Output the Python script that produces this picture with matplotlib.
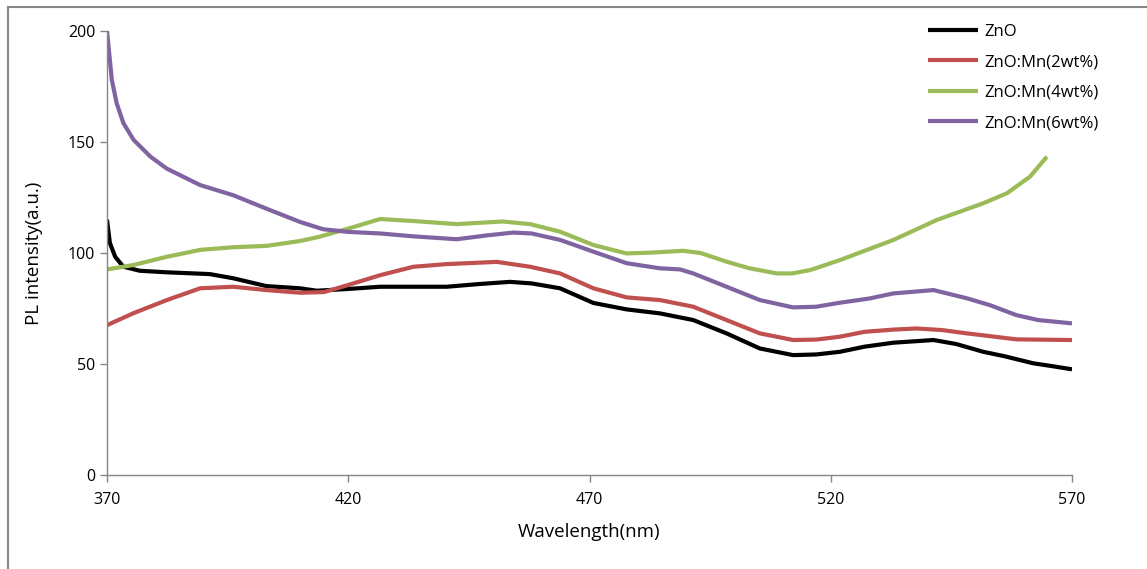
import matplotlib; matplotlib.use("Agg")
import matplotlib.pyplot as plt
from matplotlib.lines import Line2D

plt.rcParams['font.family'] = ['Open Sans', 'DejaVu Sans']

# ZnO (black)
zno_x = [370, 370.6, 371.7, 373.4, 376.8, 382.4, 391.3, 396.2, 403, 410, 413.5, 420, 426.6,
         433.5, 440.4, 447, 453.5, 458, 463.9, 470.8, 477.7, 484.6, 491.5, 498.4, 505.3,
         512.2, 517, 521.9, 527, 533, 541.3, 546, 551.6, 556, 562, 566, 570]
zno_y = [115, 104.5, 98.3, 93.8, 92, 91.3, 90.5, 88.6, 85.1, 84.1, 83, 83.8, 84.8,
         84.8, 84.8, 86, 87, 86.3, 84.1, 77.5, 74.6, 72.8, 69.8, 63.8, 57,
         54, 54.3, 55.5, 57.8, 59.6, 60.8, 59, 55.5, 53.5, 50.3, 49, 47.6]

# ZnO:Mn 2wt% (red)
mn2_x = [370, 375.5, 382.4, 389.3, 396.2, 403, 410, 415, 420, 426.6, 433.5, 440.4, 450.8,
         457.7, 463.9, 470.8, 477.7, 484.6, 491.5, 498.4, 505.3, 512.2, 517, 521.9, 527,
         533, 537.8, 543, 548.2, 558.5, 570]
mn2_y = [67.5, 72.9, 78.8, 84.1, 84.8, 83.3, 82.1, 82.4, 85.6, 90, 93.8, 95, 96,
         93.8, 90.8, 84.1, 80, 78.8, 75.8, 69.8, 63.8, 60.8, 61, 62.3, 64.5,
         65.5, 66, 65.3, 63.8, 61.1, 60.8]

# ZnO:Mn 4wt% (green)
mn4_x = [370, 375.5, 382.4, 389.3, 396.2, 403, 410, 414, 420, 426.6, 433.5, 442.5, 452,
         457.7, 463.9, 470.8, 477.7, 483, 489.4, 493, 498.4, 503, 508.8, 512, 515.7,
         521.9, 533, 542, 551.6, 556.5, 561.3, 564.8]
mn4_y = [92.6, 94.6, 98.3, 101.4, 102.6, 103.2, 105.4, 107.3, 111, 115.3, 114.4, 113, 114.2,
         113, 109.6, 103.6, 99.8, 100.2, 101, 100, 96.1, 93.2, 90.8, 90.8, 92.3,
         96.8, 105.9, 114.9, 122.4, 126.9, 134.4, 143.4]

# ZnO:Mn 6wt% (purple)
mn6_x = [370, 370.5, 371, 372, 373.4, 375.5, 379, 382.4, 389.3, 396.2, 403, 410, 414.8,
         420, 426.6, 433.5, 442.5, 449, 454.2, 458, 463.9, 470.8, 477.7, 484.6, 488.8,
         491.5, 498.4, 505.3, 512.2, 517, 521.9, 528, 533, 541.3, 548.2, 553, 558.5,
         563, 570]
mn6_y = [200, 189, 178, 167.5, 158.5, 151, 143.4, 138, 130.6, 126, 120, 114, 110.7,
         109.5, 108.8, 107.5, 106.2, 108, 109.2, 108.8, 105.9, 100.6, 95.4, 93.1, 92.6,
         90.8, 84.8, 78.8, 75.5, 75.8, 77.6, 79.5, 81.8, 83.3, 79.6, 76.5, 72,
         69.8, 68.3]

labels = ["ZnO", "ZnO:Mn(2wt%)", "ZnO:Mn(4wt%)", "ZnO:Mn(6wt%)"]
colors = ["#000000", "#C0504D", "#9BBB59", "#8064A2"]
xticks = [370, 420, 470, 520, 570]
yticks = [0, 50, 100, 150, 200]

fig = plt.figure(figsize=(11.47, 5.69), dpi=100)
ax = fig.add_axes([107/1147, 1-475/569, (1072-107)/1147, (475-31)/569])

series = [(zno_x, zno_y), (mn2_x, mn2_y), (mn4_x, mn4_y), (mn6_x, mn6_y)]
for (xs, ys), c, lab in zip(series, colors, labels):
    ax.plot(xs, ys, color=c, lw=3, label=lab, solid_capstyle="butt", solid_joinstyle="round")

ax.set_xlim(370, 570); ax.set_ylim(0, 200)
ax.set_xticks(xticks); ax.set_yticks(yticks)
for s in ["top", "right"]:
    ax.spines[s].set_visible(False)
for s in ["left", "bottom"]:
    ax.spines[s].set_color("#868686"); ax.spines[s].set_linewidth(1)
ax.tick_params(colors="#868686", labelcolor="black", labelsize=11.5, length=5, width=1)
ax.tick_params(axis="x", pad=7)
ax.set_xlabel("Wavelength(nm)", fontsize=13.5)
ax.set_ylabel("PL intensity(a.u.)", fontsize=13.5)
ax.xaxis.set_label_coords(0.5, -0.108)
ax.yaxis.set_label_coords(-0.0663, 0.5)

fig.legend(loc="upper left", bbox_to_anchor=(913/1147, 1-9/569), frameon=False,
           fontsize=12, handlelength=3.0, labelspacing=0.86, handletextpad=0.36)

# outer chart frame
fig.add_artist(Line2D([8/1147, 8/1147], [0, 1-7/569], transform=fig.transFigure,
                      color="#888888", lw=1.5))
fig.add_artist(Line2D([8/1147, 1], [1-7/569, 1-7/569], transform=fig.transFigure,
                      color="#888888", lw=1.5))

fig.savefig("out.png", dpi=100)
